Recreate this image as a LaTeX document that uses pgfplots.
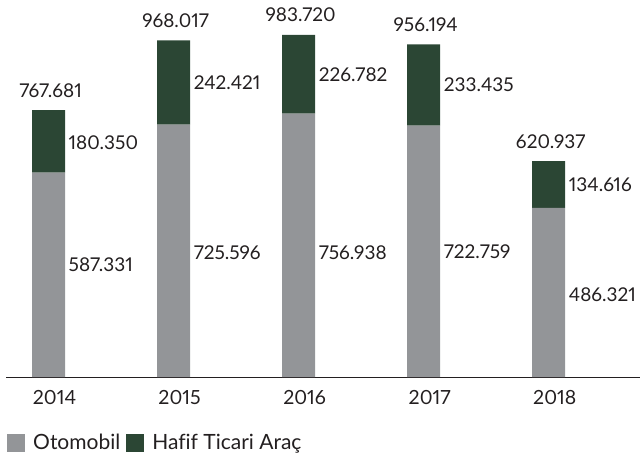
\documentclass[border=0pt]{standalone}
\usepackage{pgfplots}
\pgfplotsset{compat=1.18}
\usepackage{fontspec}
\setmainfont{Lato}[Numbers=Proportional, Ligatures=NoCommon]
\definecolor{oto}{HTML}{939598}
\definecolor{hta}{HTML}{2B4634}
\definecolor{txt}{HTML}{231F20}
\tikzset{lab/.style={font=\fontsize{19bp}{23bp}\selectfont, text=txt, inner sep=0pt}}

\begin{document}
\begin{tikzpicture}
\path[use as bounding box] (0,0) rectangle (640bp,460bp);
\begin{axis}[
    at={(6bp,83bp)}, anchor=south west,
    scale only axis,
    width=634bp, height=377bp,
    ybar stacked,
    bar width=33bp,
    xmin=-0.34, xmax=4.73,
    ymin=0, ymax=1084,
    axis y line=none,
    axis x line*=bottom,
    x axis line style={-, line width=0.8pt, color=txt},
    xtick={0,1,2,3,4},
    xticklabels={2014,2015,2016,2017,2018},
    major tick length=0pt,
    xticklabel style={anchor=base, inner sep=0pt, yshift=-27bp, xshift=6bp,
        font=\fontsize{19.5bp}{23bp}\selectfont, text=txt},
    clip=false,
    legend style={at={(0.0016,-0.175)}, anchor=west, draw=none, fill=none,
        inner sep=0pt, legend columns=-1,
        font=\fontsize{21bp}{25bp}\selectfont, text=txt,
        /tikz/every even column/.append style={column sep=4bp}},
    legend image code/.code={\fill[#1] (0bp,-9bp) rectangle (18bp,9bp); \path (24bp,0bp);},
]
\addplot[fill=oto, draw=none] coordinates {(0,587.331) (1,725.596) (2,756.938) (3,722.759) (4,486.321)};
\addlegendentry{Otomobil}
\addplot[fill=hta, draw=none] coordinates {(0,180.350) (1,242.421) (2,226.782) (3,233.435) (4,134.616)};
\addlegendentry{Hafif Ticari Araç}

% segment labels (Otomobil)
\node[lab, anchor=west, xshift=20bp] at (axis cs:0,322) {587.331};
\node[lab, anchor=west, xshift=20bp] at (axis cs:1,358) {725.596};
\node[lab, anchor=west, xshift=20bp] at (axis cs:2,356) {756.938};
\node[lab, anchor=west, xshift=20bp] at (axis cs:3,359) {722.759};
\node[lab, anchor=west, xshift=20bp] at (axis cs:4,237) {486.321};
% segment labels (Hafif Ticari Arac)
\node[lab, anchor=west, xshift=20bp] at (axis cs:0,673) {180.350};
\node[lab, anchor=west, xshift=20bp] at (axis cs:1,846.81) {242.421};
\node[lab, anchor=west, xshift=20bp] at (axis cs:2,870.33) {226.782};
\node[lab, anchor=west, xshift=20bp] at (axis cs:3,839.48) {233.435};
\node[lab, anchor=west, xshift=20bp] at (axis cs:4,553.63) {134.616};
% totals
\node[lab, anchor=base, yshift=13bp, xshift=2bp] at (axis cs:0,767.681) {767.681};
\node[lab, anchor=base, yshift=13bp, xshift=2bp] at (axis cs:1,968.017) {968.017};
\node[lab, anchor=base, yshift=13bp, xshift=2bp] at (axis cs:2,983.720) {983.720};
\node[lab, anchor=base, yshift=13bp, xshift=2bp] at (axis cs:3,956.194) {956.194};
\node[lab, anchor=base, yshift=13bp, xshift=2bp] at (axis cs:4,620.937) {620.937};
\end{axis}
\end{tikzpicture}
\end{document}
